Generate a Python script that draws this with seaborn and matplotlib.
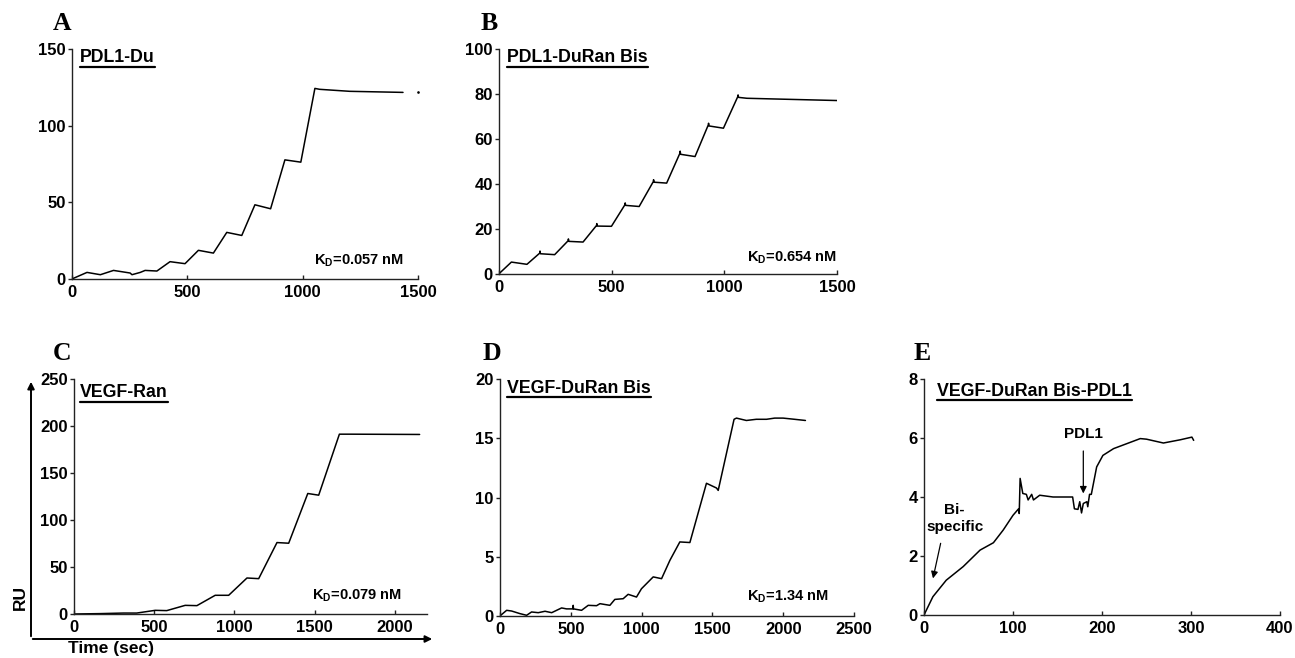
import numpy as np
import pandas as pd
import seaborn as sns
import matplotlib
matplotlib.use("Agg")
import matplotlib.pyplot as plt
from matplotlib.lines import Line2D

sns.set_theme(style="ticks")
plt.rcParams['font.family'] = ['Liberation Sans', 'DejaVu Sans']
plt.rcParams['font.weight'] = 'bold'
plt.rcParams['mathtext.default'] = 'regular'
plt.rcParams['text.color'] = 'black'
plt.rcParams['axes.labelcolor'] = 'black'
plt.rcParams['xtick.color'] = 'black'
plt.rcParams['ytick.color'] = 'black'

# ---------------- data ----------------
a_time = [0, 4, 65, 123, 180, 252, 260, 296, 317, 368, 425, 490, 548, 613, 671, 736,
          793, 861, 923, 992, 1053, 1074, 1204, 1435]
a_ru = [0, 0.3, 4.3, 2.8, 5.6, 3.9, 2.8, 4.3, 5.6, 5.2, 11.3, 10.0, 18.7, 16.9, 30.4, 28.4,
        48.4, 45.8, 77.7, 76.2, 124.3, 123.7, 122.4, 121.7]
a_dot_time = [1500]
a_dot_ru = [121.7]

b_time = [0, 3, 55, 124, 181, 182, 184, 247, 307, 308, 310, 373, 433, 434, 436, 499,
          559, 560, 562, 622, 685, 686, 688, 744, 803, 804, 806, 870, 929, 930, 932, 996,
          1060, 1061, 1063, 1100, 1218, 1500]
b_ru = [0, 0.4, 5.3, 4.3, 9.3, 10.2, 9.0, 8.6, 14.8, 15.6, 14.5, 14.2, 21.6, 22.4, 21.3, 21.2,
        30.8, 31.6, 30.5, 30.0, 41.1, 41.9, 40.8, 40.4, 53.7, 54.6, 53.2, 52.2, 66.3, 67.0, 65.8, 64.8,
        78.9, 79.6, 78.5, 78.1, 77.8, 77.1]

c_time = [0, 162, 308, 391, 506, 578, 693, 766, 880, 964, 1078, 1151, 1265, 1338,
          1457, 1525, 1654, 1723, 2154]
c_ru = [0, 0.4, 1.0, 1.0, 3.9, 3.6, 9.2, 8.9, 19.9, 19.9, 38.3, 37.6, 76.0, 75.3,
        128.2, 126.4, 191.3, 191.3, 191.0]

d_time = [0, 5, 47, 82, 141, 188, 223, 270, 318, 365, 435, 470, 515, 517, 519, 576,
          623, 682, 706, 776, 811, 870, 905, 964, 999, 1082, 1141, 1200, 1270, 1341,
          1458, 1529, 1541, 1653, 1670, 1740, 1810, 1882, 1940, 1999, 2080, 2157]
d_ru = [0, 0.06, 0.48, 0.42, 0.2, 0.06, 0.34, 0.28, 0.4, 0.28, 0.68, 0.6, 0.6, 0.9, 0.6, 0.48,
        0.9, 0.87, 1.04, 0.9, 1.4, 1.46, 1.83, 1.6, 2.3, 3.3, 3.15, 4.7, 6.25, 6.2,
        11.2, 10.8, 10.6, 16.6, 16.7, 16.5, 16.6, 16.6, 16.7, 16.7, 16.6, 16.5]

e_time = [0, 10, 25, 44, 63, 78, 89, 100, 106, 107, 108, 111, 115, 117, 121, 123, 130,
          145, 167, 169, 173, 175, 177, 179, 183, 184, 186, 188, 194, 201, 213, 228, 243,
          250, 269, 288, 301, 303]
e_ru = [0, 0.62, 1.18, 1.64, 2.2, 2.45, 2.88, 3.38, 3.59, 3.44, 4.63, 4.12, 4.09, 3.9, 4.09, 3.9, 4.06,
        4.0, 4.0, 3.6, 3.58, 3.84, 3.46, 3.78, 3.84, 3.67, 4.09, 4.09, 5.02, 5.41, 5.64, 5.81, 5.98,
        5.96, 5.83, 5.94, 6.03, 5.92]

panel_letters = ['A', 'B', 'C', 'D', 'E']
panel_titles = ['PDL1-Du', 'PDL1-DuRan Bis', 'VEGF-Ran', 'VEGF-DuRan Bis', 'VEGF-DuRan Bis-PDL1']
kd_values = ['0.057', '0.654', '0.079', '1.34']
x_ticks = [[0, 500, 1000, 1500], [0, 500, 1000, 1500], [0, 500, 1000, 1500, 2000],
           [0, 500, 1000, 1500, 2000, 2500], [0, 100, 200, 300, 400]]
y_ticks = [[0, 50, 100, 150], [0, 20, 40, 60, 80, 100], [0, 50, 100, 150, 200, 250],
           [0, 5, 10, 15, 20], [0, 2, 4, 6, 8]]
x_lims = [(0, 1500), (0, 1500), (0, 2200), (0, 2500), (0, 400)]

# ---------------- layout ----------------
W, H = 1295, 658
fig = plt.figure(figsize=(W / 100, H / 100), dpi=100)


def px_axes(x0, x1, ytop, ybot):
    return fig.add_axes([x0 / W, 1 - ybot / H, (x1 - x0) / W, (ybot - ytop) / H])


axes = [px_axes(72, 418, 49, 279), px_axes(499, 837, 49, 274), px_axes(74, 427, 379, 614),
        px_axes(500, 854, 379, 616), px_axes(924, 1280, 379, 615)]

series = [(a_time, a_ru), (b_time, b_ru), (c_time, c_ru), (d_time, d_ru), (e_time, e_ru)]
for ax, (t, r) in zip(axes, series):
    df = pd.DataFrame({'time': t, 'RU': r})
    sns.lineplot(data=df, x='time', y='RU', ax=ax, color='black', linewidth=1.1,
                 sort=False, estimator=None)

axes[0].scatter(a_dot_time, a_dot_ru, s=0.8, color='black', clip_on=False, zorder=3)

for i, ax in enumerate(axes):
    ax.set_xlim(*x_lims[i])
    ax.set_ylim(y_ticks[i][0], y_ticks[i][-1])
    ax.set_xticks(x_ticks[i])
    ax.set_yticks(y_ticks[i])
    ax.set_xlabel('')
    ax.set_ylabel('')
    for s in ['top', 'right']:
        ax.spines[s].set_visible(False)
    for s in ['left', 'bottom']:
        ax.spines[s].set_linewidth(1.0)
        ax.spines[s].set_color('#222222')
    ax.tick_params(axis='x', direction='in', length=3, width=1.0, pad=4,
                   labelsize=12, colors='#222222', labelcolor='black')
    ax.tick_params(axis='y', direction='out', length=3, width=1.0, pad=1.5,
                   labelsize=12, colors='#222222', labelcolor='black')
    for lab in ax.get_xticklabels() + ax.get_yticklabels():
        lab.set_fontweight('bold')

# panel letters
letter_pos = [(62, 24), (489, 24), (62, 353), (492, 353), (922, 353)]
for L, (x, y) in zip(panel_letters, letter_pos):
    fig.text(x / W, 1 - y / H, L, family=['Liberation Serif', 'DejaVu Serif'],
             fontweight='bold', fontsize=18.5, ha='center', va='center')

# titles (underlined)
title_pos = [(0.023, 0.943), (0.024, 0.942), (0.017, 0.923), (0.020, 0.941), (0.037, 0.928)]
title_texts = []
for ax, ttl, (x, y) in zip(axes, panel_titles, title_pos):
    tt = ax.text(x, y, ttl, transform=ax.transAxes, fontsize=12.8, fontweight='bold',
                 ha='left', va='baseline')
    title_texts.append(tt)

# KD annotations
kd_pos = [(0.96, 0.061), (1.0, 0.053), (0.929, 0.06), (0.929, 0.063)]
for ax, kd, (x, y) in zip(axes[:4], kd_values, kd_pos):
    ax.text(x, y, r'K$_{D}$=' + kd + ' nM', transform=ax.transAxes, fontsize=10.5,
            fontweight='bold', ha='right', va='baseline')

# panel E annotations
axE = axes[4]
axE.text(179, 6.15, 'PDL1', ha='center', va='center', fontsize=11, fontweight='bold')
axE.annotate('', xy=(179, 4.12), xytext=(179, 5.56),
             arrowprops=dict(arrowstyle='-|>', color='black', lw=0.9,
                             mutation_scale=10, shrinkA=0, shrinkB=0))
axE.text(34.5, 3.27, 'Bi-\nspecific', ha='center', va='center', fontsize=11,
         fontweight='bold', linespacing=1.25)
axE.annotate('', xy=(10.1, 1.24), xytext=(18.7, 2.43),
             arrowprops=dict(arrowstyle='-|>', color='black', lw=0.9,
                             mutation_scale=10, shrinkA=0, shrinkB=0))

# panel C outer arrows and axis names
fig.add_artist(matplotlib.patches.FancyArrowPatch(
    (31 / W, 1 - 639 / H), (31 / W, 1 - 379 / H), transform=fig.transFigure,
    arrowstyle='-|>', mutation_scale=10, color='black', lw=1.4))
fig.add_artist(matplotlib.patches.FancyArrowPatch(
    (30 / W, 1 - 639 / H), (435 / W, 1 - 639 / H), transform=fig.transFigure,
    arrowstyle='-|>', mutation_scale=10, color='black', lw=1.4))
fig.text(20 / W, 1 - 597 / H, 'RU', rotation=90, fontsize=12.5, fontweight='bold',
         ha='center', va='center')
fig.text(111 / W, 1 - 649 / H, 'Time (sec)', fontsize=12.5, fontweight='bold',
         ha='center', va='center')

# underline the titles
fig.canvas.draw()
renderer = fig.canvas.get_renderer()
inv = fig.transFigure.inverted()
for tt in title_texts:
    bb = tt.get_window_extent(renderer)
    (x0, y0), (x1, y1) = inv.transform([(bb.x0, bb.y0), (bb.x1, bb.y1)])
    yl = y0 - 0.5 / H
    fig.add_artist(Line2D([x0, x1], [yl, yl], transform=fig.transFigure,
                          color='black', lw=1.6))

fig.savefig('out.png', dpi=100)
